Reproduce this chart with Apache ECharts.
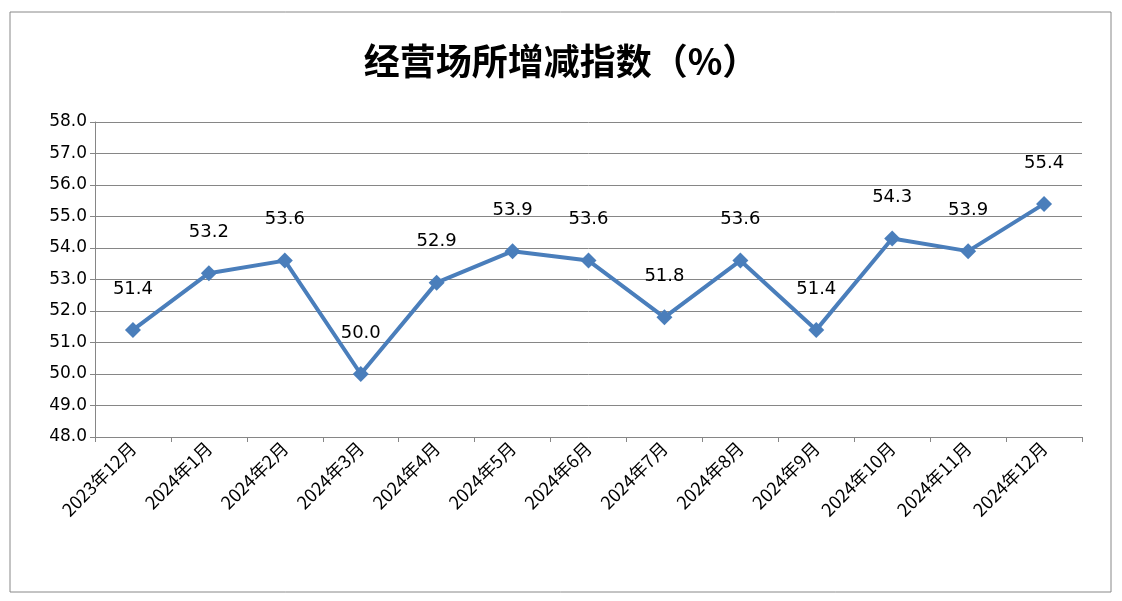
<!DOCTYPE html>
<html><head><meta charset="utf-8">
<script src="https://cdn.jsdelivr.net/npm/echarts@6/dist/echarts.min.js"></script>
<style>html,body{margin:0;padding:0;background:#fff}#c{width:1122px;height:601px}</style>
</head><body><div id="c"></div>
<script>
const categories=['2023年12月','2024年1月','2024年2月','2024年3月','2024年4月','2024年5月','2024年6月','2024年7月','2024年8月','2024年9月','2024年10月','2024年11月','2024年12月'];
const values=[51.4,53.2,53.6,50.0,52.9,53.9,53.6,51.8,53.6,51.4,54.3,53.9,55.4];
const chart=echarts.init(document.getElementById('c'));
chart.setOption({
  animation:false,
  graphic:[{type:'rect',shape:{x:10,y:12,width:1101,height:580},style:{fill:'none',stroke:'#888',lineWidth:1}}],
  title:{text:'经营场所增减指数（%）',left:'center',top:38,textStyle:{fontFamily:'Noto Sans CJK SC',fontSize:36,fontWeight:'bold',color:'#000'}},
  grid:{left:95,right:40,top:122,bottom:164},
  xAxis:{type:'category',data:categories,boundaryGap:true,
    axisLine:{lineStyle:{color:'#868686'}},axisTick:{show:true,lineStyle:{color:'#868686'}},
    axisLabel:{rotate:45,color:'#000',fontSize:18,fontFamily:'Noto Sans CJK SC',margin:8}},
  yAxis:{type:'value',min:48,max:58,interval:1,
    axisLine:{show:true,lineStyle:{color:'#868686'}},axisTick:{show:true,lineStyle:{color:'#868686'}},
    splitLine:{lineStyle:{color:'#868686'}},
    axisLabel:{formatter:v=>v.toFixed(1),color:'#000',fontSize:17,fontFamily:'DejaVu Sans'}},
  series:[{type:'line',data:values,symbol:'diamond',symbolSize:16,
    lineStyle:{color:'#4a7ebb',width:4},itemStyle:{color:'#4a7ebb'},
    label:{show:true,position:'top',distance:24,formatter:p=>p.value.toFixed(1),color:'#000',fontSize:18,fontFamily:'DejaVu Sans'}}]
});
</script></body></html>
